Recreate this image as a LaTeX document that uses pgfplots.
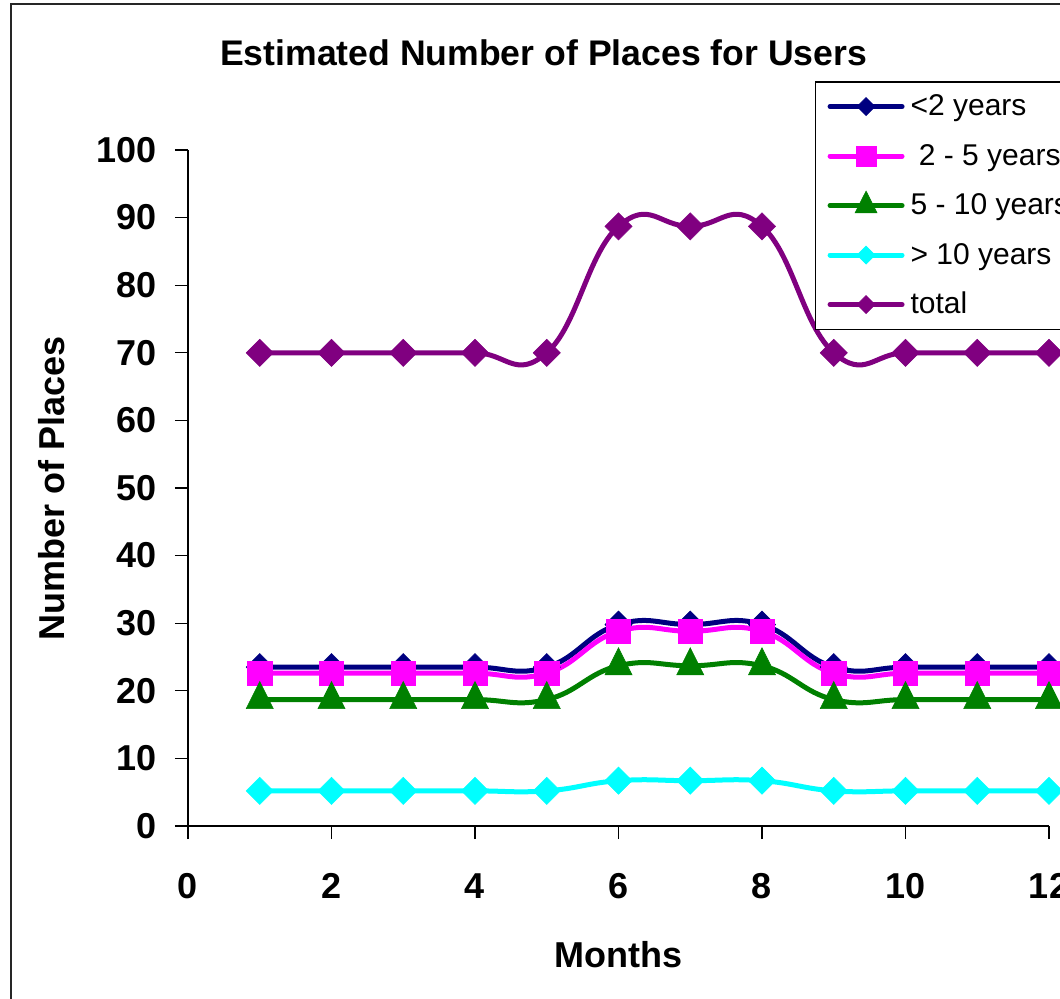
\documentclass[border=0pt]{standalone}
\usepackage{fontspec}
\setmainfont{Liberation Sans}
\usepackage{pgfplots}
\pgfplotsset{compat=1.18}

\definecolor{cnavy}{RGB}{0,0,128}
\definecolor{cmag}{RGB}{255,0,255}
\definecolor{cgreen}{RGB}{0,128,0}
\definecolor{ccyan}{RGB}{0,255,255}
\definecolor{cpurple}{RGB}{128,0,128}

\begin{document}
\begin{tikzpicture}
\useasboundingbox (0,0) rectangle (530pt,499pt);
\clip (0,0) rectangle (530pt,499pt);
% chart area frame (cut off at right and bottom as in the original)
\draw[line width=0.75pt, black!85] (5.5pt,-20pt) rectangle (600pt,497pt);

\begin{axis}[
    at={(94pt,86pt)}, anchor=south west,
    scale only axis,
    width=430.5pt, height=338pt,
    xmin=0, xmax=12, ymin=0, ymax=100,
    xtick={0,2,...,12}, ytick={0,10,...,100},
    axis lines=left,
    axis line style={-, line width=0.6pt},
    tick align=outside,
    major tick length=6.5pt,
    tick style={black, line width=0.6pt},
    clip=false,
    /pgf/number format/assume math mode=true,
    ticklabel style={font=\fontsize{18}{20}\selectfont\bfseries},
    yticklabel style={inner sep=0pt, xshift=-9pt},
    xticklabel style={inner sep=0pt, yshift=-17pt},
    title={Estimated Number of Places for Users},
    title style={at={(0.413,1.126)}, anchor=center, inner sep=0pt,
        font=\fontsize{17.8}{20}\selectfont\bfseries},
    xlabel={Months},
    xlabel style={at={(0.5,-0.191)}, anchor=center, inner sep=0pt,
        font=\fontsize{18}{20}\selectfont\bfseries},
    ylabel={Number of Places},
    ylabel style={at={(-0.158,0.5)}, anchor=center, rotate=0, inner sep=0pt,
        font=\fontsize{18}{20}\selectfont\bfseries},
    legend cell align=left,
    legend style={
        at={(0.728,1.102)}, anchor=north west,
        draw=black, line width=0.75pt, fill=white,
        inner xsep=6pt, inner ysep=0pt,
        row sep=0pt, column sep=3pt,
        font=\fontsize{15}{18}\selectfont,
        nodes={minimum height=24.75pt, inner sep=0pt},
    },
    legend image code/.code={
        \draw[mark repeat=2, mark phase=2, line cap=round, #1]
            plot coordinates {(0pt,0pt) (18pt,0pt) (36pt,0pt)};
    },
    every axis plot/.append style={line width=2.5pt, tension=0.78},
]

\addplot[cnavy, smooth, mark=square*, mark size=4.8pt,
    mark options={rotate=45, line width=0.3pt, fill=cnavy},
    legend image post style={mark size=3.2pt}] coordinates {
(1,23.5) (2,23.5) (3,23.5) (4,23.5) (5,23.5) (6,29.8)
(7,29.8) (8,29.8) (9,23.5) (10,23.5) (11,23.5) (12,23.5)
};
\addlegendentry{<2 years}

\addplot[cmag, smooth, mark=square*, mark size=6.1pt,
    mark options={line width=0.3pt, fill=cmag},
    legend image post style={mark size=5pt}] coordinates {
(1,22.6) (2,22.6) (3,22.6) (4,22.6) (5,22.6) (6,28.8)
(7,28.8) (8,28.8) (9,22.6) (10,22.6) (11,22.6) (12,22.6)
};
\addlegendentry{\ 2 - 5 years}

\addplot[cgreen, smooth, mark=triangle*, mark size=7.8pt,
    mark options={yscale=1.15, line width=0.3pt, fill=cgreen},
    legend image post style={mark size=6.3pt}] coordinates {
(1,18.7) (2,18.7) (3,18.7) (4,18.7) (5,18.7) (6,23.7)
(7,23.7) (8,23.7) (9,18.7) (10,18.7) (11,18.7) (12,18.7)
};
\addlegendentry{5 - 10 years}

\addplot[ccyan, smooth, mark=square*, mark size=4.8pt,
    mark options={rotate=45, line width=0.3pt, fill=ccyan},
    legend image post style={mark size=3.2pt}] coordinates {
(1,5.2) (2,5.2) (3,5.2) (4,5.2) (5,5.2) (6,6.7)
(7,6.7) (8,6.7) (9,5.2) (10,5.2) (11,5.2) (12,5.2)
};
\addlegendentry{> 10 years}

\addplot[cpurple, smooth, mark=square*, mark size=4.8pt,
    mark options={rotate=45, line width=0.3pt, fill=cpurple},
    legend image post style={mark size=3.2pt}] coordinates {
(1,70) (2,70) (3,70) (4,70) (5,70) (6,88.7)
(7,88.7) (8,88.7) (9,70) (10,70) (11,70) (12,70)
};
\addlegendentry{total}

\end{axis}
\end{tikzpicture}
\end{document}
